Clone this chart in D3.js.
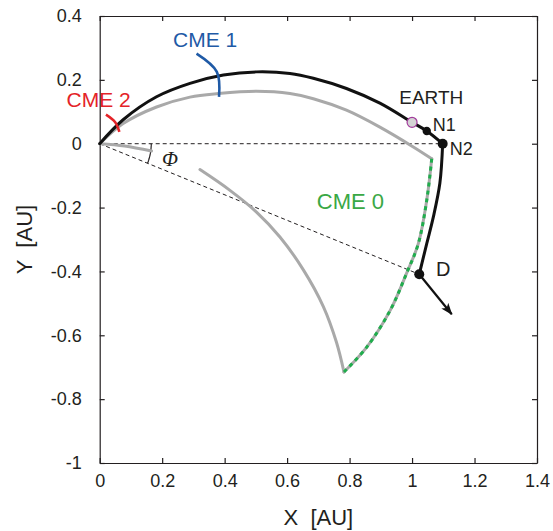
<!DOCTYPE html>
<html>
<head>
<meta charset="utf-8">
<script src="https://cdn.jsdelivr.net/npm/d3@7"></script>
<style>
  body { margin: 0; background: #fff; }
  svg { display: block; font-family: "Liberation Sans", Arial, Helvetica, sans-serif; }
  .axis path, .axis line { stroke: #231f20; stroke-width: 1.2; }
  .axis text { font-size: 18px; fill: #231f20; font-family: "Liberation Sans", Arial, Helvetica, sans-serif; }
</style>
</head>
<body>
<svg id="chart" width="553" height="531"></svg>
<script>
// axis ticks
const xTicks = [0, 0.2, 0.4, 0.6, 0.8, 1, 1.2, 1.4]
const xTickLabels = ["0", "0.2", "0.4", "0.6", "0.8", "1", "1.2", "1.4"]
const yTicks = [0.4, 0.2, 0, -0.2, -0.4, -0.6, -0.8, -1]
const yTickLabels = ["0.4", "0.2", "0", "-0.2", "-0.4", "-0.6", "-0.8", "-1"]

// black shock front: nose arc from sun to N2, then flank down to D
const frontArcX = [0, 0.075, 0.182, 0.289, 0.396, 0.502, 0.609, 0.684, 0.79, 0.897, 1.0, 1.047, 1.098]
const frontArcY = [0, 0.075, 0.147, 0.189, 0.215, 0.225, 0.22, 0.205, 0.173, 0.127, 0.067, 0.04, 0]
const frontFlankX = [1.098, 1.089, 1.068, 1.047, 1.023]
const frontFlankY = [0, -0.124, -0.23, -0.313, -0.409]

// grey CME outline
const cmeArcX = [0, 0.075, 0.182, 0.289, 0.38, 0.502, 0.609, 0.684, 0.79, 0.897, 1.004, 1.063]
const cmeArcY = [0, 0.063, 0.115, 0.146, 0.157, 0.164, 0.157, 0.141, 0.105, 0.052, -0.01, -0.047]
const cme0X = [1.063, 1.047, 1.02, 0.982, 0.93, 0.855, 0.782]
const cme0Y = [-0.047, -0.177, -0.313, -0.407, -0.522, -0.637, -0.715]
const cmeBackX = [0.321, 0.417, 0.502, 0.577, 0.652, 0.716, 0.758, 0.782]
const cmeBackY = [-0.081, -0.146, -0.214, -0.292, -0.395, -0.51, -0.622, -0.715]
const cmeStubX = [0, 0.08, 0.166]
const cmeStubY = [0, -0.007, -0.023]

// marked points
const pointNames = ["EARTH", "N1", "N2", "D"]
const pointX = [1.0, 1.047, 1.098, 1.023]
const pointY = [0.067, 0.04, 0, -0.409]
const arrowEnd = [1.127, -0.534]

// pointer ticks for the CME labels
const cme1PtrX = [0.31, 0.375, 0.382]
const cme1PtrY = [0.282, 0.225, 0.147]
const cme2PtrX = [0.02, 0.049, 0.063]
const cme2PtrY = [0.091, 0.068, 0.037]

// labels (anchored at start, baseline)
const labelText = ["CME 1", "CME 2", "CME 0", "EARTH", "N1", "N2", "D"]
const labelX = [0.235, -0.106, 0.695, 0.959, 1.066, 1.121, 1.077]
const labelY = [0.303, 0.115, -0.206, 0.123, 0.039, -0.036, -0.415]
const labelColor = ["#1f5aa6", "#e42328", "#3aa845", "#231f20", "#231f20", "#231f20", "#231f20"]
const labelSize = [21, 21, 22, 19, 18, 18, 20]

const svg = d3.select("#chart")
const mLeft = 99.7, mRight = 537, mTop = 16, mBottom = 463

const xScale = d3.scaleLinear().domain([0, 1.4]).range([mLeft, mRight])
const yScale = d3.scaleLinear().domain([-1, 0.4]).range([mBottom, mTop])

const zip = (xs, ys) => xs.map((x, i) => [x, ys[i]])
const line = d3.line().x(d => xScale(d[0])).y(d => yScale(d[1])).curve(d3.curveCatmullRom)
const straight = d3.line().x(d => xScale(d[0])).y(d => yScale(d[1]))

// axes, ticks pointing inward, mirrored on top and right
svg.append("g").attr("class", "axis")
    .attr("transform", "translate(0," + mBottom + ")")
    .call(d3.axisBottom(xScale).tickValues(xTicks).tickFormat((d, i) => xTickLabels[i])
        .tickSizeInner(-5).tickSizeOuter(0).tickPadding(11))
svg.append("g").attr("class", "axis")
    .attr("transform", "translate(" + mLeft + ",0)")
    .call(d3.axisLeft(yScale).tickValues(yTicks).tickFormat((d, i) => yTickLabels[i])
        .tickSizeInner(-5).tickSizeOuter(0).tickPadding(18))
svg.append("g").attr("class", "axis")
    .attr("transform", "translate(0," + mTop + ")")
    .call(d3.axisTop(xScale).tickValues(xTicks).tickFormat("").tickSizeInner(-5).tickSizeOuter(0))
svg.append("g").attr("class", "axis")
    .attr("transform", "translate(" + mRight + ",0)")
    .call(d3.axisRight(yScale).tickValues(yTicks).tickFormat("").tickSizeInner(-5).tickSizeOuter(0))

// axis titles
svg.append("text")
    .attr("x", (mLeft + mRight) / 2).attr("y", 525)
    .attr("text-anchor", "middle").attr("font-size", 22).attr("fill", "#231f20")
    .attr("xml:space", "preserve")
    .text("X  [AU]")
svg.append("text")
    .attr("transform", "translate(32," + yScale(-0.3) + ") rotate(-90)")
    .attr("text-anchor", "middle").attr("font-size", 22).attr("fill", "#231f20")
    .attr("xml:space", "preserve")
    .text("Y  [AU]")

// dashed reference lines
const origin = [0, 0]
svg.append("path")
    .attr("d", straight([origin, [pointX[2], pointY[2]]]))
    .attr("fill", "none").attr("stroke", "#231f20").attr("stroke-width", 1).attr("stroke-dasharray", "4,3")
svg.append("path")
    .attr("d", straight([origin, [pointX[3], pointY[3]]]))
    .attr("fill", "none").attr("stroke", "#231f20").attr("stroke-width", 1).attr("stroke-dasharray", "4,3")

// phi angle arc
const phi = Math.atan2(pointY[3], pointX[3])
const arcR = 0.165
const arcPts = d3.range(0, 13).map(i => {
    let a = phi * i / 12
    return [arcR * Math.cos(a), arcR * Math.sin(a)]
})
svg.append("path")
    .attr("d", straight(arcPts))
    .attr("fill", "none").attr("stroke", "#231f20").attr("stroke-width", 1.2)
svg.append("text")
    .attr("x", xScale(0.225)).attr("y", yScale(-0.071))
    .attr("text-anchor", "middle")
    .attr("font-family", "'Liberation Serif', 'DejaVu Serif', serif")
    .attr("font-style", "italic").attr("font-size", 21).attr("fill", "#231f20")
    .text("Φ")

// grey CME outline
const grey = "#a9a9a9"
;[zip(cmeArcX, cmeArcY), zip(cmeBackX, cmeBackY), zip(cmeStubX, cmeStubY), zip(cme0X, cme0Y)].forEach(pts => {
    svg.append("path")
        .attr("d", line(pts))
        .attr("fill", "none").attr("stroke", grey).attr("stroke-width", 3)
        .attr("stroke-linecap", "round").attr("stroke-linejoin", "round")
})
// CME 0 flank, green dashes over grey
svg.append("path")
    .attr("d", line(zip(cme0X, cme0Y)))
    .attr("fill", "none").attr("stroke", "#1fad4c").attr("stroke-width", 3)
    .attr("stroke-dasharray", "4,4")

// black shock front
svg.append("path")
    .attr("d", line(zip(frontArcX, frontArcY)))
    .attr("fill", "none").attr("stroke", "#111").attr("stroke-width", 3)
    .attr("stroke-linecap", "round")
svg.append("path")
    .attr("d", line(zip(frontFlankX, frontFlankY)))
    .attr("fill", "none").attr("stroke", "#111").attr("stroke-width", 3)
    .attr("stroke-linecap", "round")

// arrow from D
svg.append("defs").append("marker")
    .attr("id", "arrowhead")
    .attr("viewBox", "0 -5 12 10")
    .attr("refX", 11).attr("refY", 0)
    .attr("markerWidth", 12).attr("markerHeight", 10)
    .attr("markerUnits", "userSpaceOnUse")
    .attr("orient", "auto")
    .append("path")
    .attr("d", "M0,-4.5L12,0L0,4.5L3,0Z")
    .attr("fill", "#111")
svg.append("path")
    .attr("d", straight([[pointX[3], pointY[3]], arrowEnd]))
    .attr("fill", "none").attr("stroke", "#111").attr("stroke-width", 2.2)
    .attr("marker-end", "url(#arrowhead)")

// label pointers
svg.append("path")
    .attr("d", line(zip(cme1PtrX, cme1PtrY)))
    .attr("fill", "none").attr("stroke", "#1f5aa6").attr("stroke-width", 2.6)
svg.append("path")
    .attr("d", line(zip(cme2PtrX, cme2PtrY)))
    .attr("fill", "none").attr("stroke", "#e42328").attr("stroke-width", 2.6)

// points
svg.selectAll(".pt")
    .data(pointNames)
    .enter().append("circle")
    .attr("class", "pt")
    .attr("cx", (d, i) => xScale(pointX[i]))
    .attr("cy", (d, i) => yScale(pointY[i]))
    .attr("r", d => d === "N1" ? 4.2 : 5)
    .attr("fill", d => d === "EARTH" ? "#d4d4d4" : "#111")
    .attr("stroke", d => d === "EARTH" ? "#a23b9c" : "none")
    .attr("stroke-width", 1.2)

// labels
svg.selectAll(".lbl")
    .data(labelText)
    .enter().append("text")
    .attr("class", "lbl")
    .attr("x", (d, i) => xScale(labelX[i]))
    .attr("y", (d, i) => yScale(labelY[i]))
    .attr("font-size", (d, i) => labelSize[i])
    .attr("fill", (d, i) => labelColor[i])
    .text(d => d)
</script>
</body>
</html>
